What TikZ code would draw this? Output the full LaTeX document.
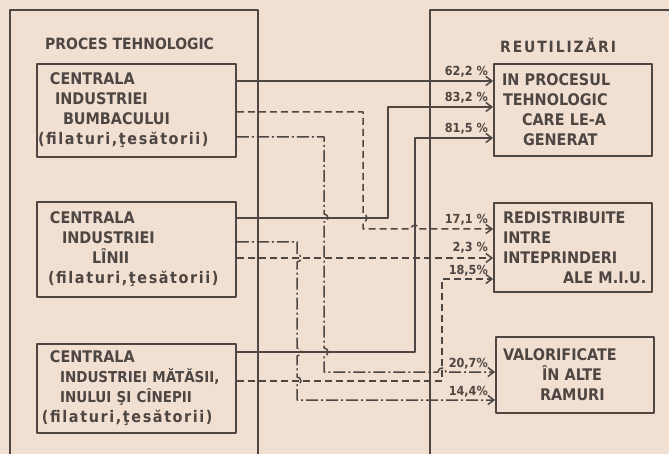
\documentclass[tikz,border=0pt]{standalone}
\usepackage{fontspec}
\setmainfont{DejaVu Sans Condensed}
\usetikzlibrary{arrows.meta}

\definecolor{paper}{RGB}{241,224,210}
\definecolor{ink}{RGB}{78,70,66}

\newcommand\lowtxt[1]{{\fontsize{16}{20}\selectfont\addfontfeature{LetterSpace=10}#1}}

\tikzset{
  panel/.style={draw=ink, line width=1.8pt},
  title/.style={anchor=west, inner sep=0pt, text=ink, font=\bfseries\fontsize{15.5}{18}\selectfont},
  srcbox/.style={draw=ink, line width=1.8pt, rectangle, minimum width=199pt, text width=199pt,
    inner xsep=0pt, inner ysep=0pt, align=left, text=ink, font=\bfseries\fontsize{16}{20}\selectfont},
  dstbox/.style={srcbox, minimum width=158pt, text width=158pt},
  flow/.style={draw=ink, line width=1.5pt},
  flowdash/.style={flow, dash pattern=on 7pt off 4pt},
  flowdot/.style={flow, dash pattern=on 12pt off 3pt on 2pt off 3pt},
  pct/.style={anchor=base east, inner sep=0pt, text=ink, font=\bfseries\fontsize{12.5}{14}\selectfont}
}

\begin{document}
\begin{tikzpicture}[x=1pt, y=-1pt, >={Straight Barb[length=6pt,width=9pt]}, line join=round]
    % Paper
    \fill[paper] (0,0) rectangle (669,454);
    \useasboundingbox (0,0) rectangle (669,454);

    % Panels
    \draw[panel] (10,454) -- (10,10) -- (258,10) -- (258,454);
    \draw[panel] (669,10) -- (430,10) -- (430,454);
    \node[title] (proc) at (45,44) {PROCES TEHNOLOGIC};
    \node[title] (reut) at (500,45) {\addfontfeature{LetterSpace=12}REUTILIZĂRI};

    % Sources
    \node[srcbox, minimum height=93pt] (bumb) at (136.5,110.5)
      {\hspace*{13pt}CENTRALA\\\hspace*{18pt}INDUSTRIEI\\\hspace*{26pt}BUMBACULUI\\\hspace*{1pt}\lowtxt{(filaturi,ţesătorii)}};
    \node[srcbox, minimum height=95pt] (lana) at (136.5,249.5)
      {\hspace*{13pt}CENTRALA\\\hspace*{25pt}INDUSTRIEI\\\hspace*{55pt}LÎNII\\\hspace*{11pt}\lowtxt{(filaturi,ţesătorii)}};
    \node[srcbox, minimum height=89pt] (matase) at (136.5,388.5)
      {\hspace*{13pt}CENTRALA\\\hspace*{23pt}{\fontsize{15}{20}\selectfont INDUSTRIEI MĂTĂSII,}\\\hspace*{23pt}{\fontsize{15}{20}\selectfont INULUI ŞI CÎNEPII}\\\hspace*{5pt}\lowtxt{(filaturi,ţesătorii)}};

    % Destinations
    \node[dstbox, minimum height=92pt] (proces) at (573,110)
      {\hspace*{8pt}IN PROCESUL\\\hspace*{9pt}TEHNOLOGIC\\\hspace*{28pt}CARE LE-A\\\hspace*{29pt}GENERAT};
    \node[dstbox, minimum height=89pt] (redist) at (573,247.5)
      {\hspace*{9pt}REDISTRIBUITE\\\hspace*{9pt}INTRE\\\hspace*{9pt}INTEPRINDERI\\\hspace*{69pt}ALE M.I.U.};
    \node[dstbox, minimum height=76pt] (valor) at (575,375)
      {\hspace*{7pt}VALORIFICATE\\\hspace*{46pt}ÎN ALTE\\\hspace*{44pt}RAMURI};

    % Back into the same process
    \draw[flow,->] (bumb.east |- 0,81) -- (proces.west |- 0,81);
    \draw[flow,->] (lana.east |- 0,218) -- (388,218) -- (388,107) -- (proces.west |- 0,107);
    \draw[flow,->] (matase.east |- 0,352) -- (415,352) -- (415,138) -- (proces.west |- 0,138);

    % Redistributed
    \draw[flowdash,->] (bumb.east |- 0,112) -- (363,112) -- (363,214) arc (-90:90:4) -- (363,229)
      -- (411,229) arc (180:360:4) -- (redist.west |- 0,229);
    \draw[flowdash,->] (lana.east |- 0,258) -- (redist.west |- 0,258);
    \draw[flowdash,->] (matase.east |- 0,381) -- (442,381) -- (442,279) -- (redist.west |- 0,279);

    % Other branches
    \draw[flowdot,->] (bumb.east |- 0,137) -- (324,137) -- (324,214) arc (-90:90:4) -- (324,348) arc (-90:90:4)
      -- (324,372) -- (438,372) arc (180:360:4) -- (valor.west |- 0,372);
    \draw[flowdot,->] (lana.east |- 0,242) -- (297,242) -- (297,254) arc (-90:90:4) -- (297,348) arc (-90:90:4)
      -- (297,377) arc (-90:90:4) -- (297,400) -- (valor.west |- 0,400);

    % Shares
    \node[pct] (s1) at (488,76) {62,2 \%};
    \node[pct] (s2) at (488,102) {83,2 \%};
    \node[pct] (s3) at (488,133) {81,5 \%};
    \node[pct] (s4) at (488,224) {17,1 \%};
    \node[pct] (s5) at (488,252) {2,3 \%};
    \node[pct] (s6) at (488,275) {18,5\%};
    \node[pct] (s7) at (488,367) {20,7\%};
    \node[pct] (s8) at (488,395) {14,4\%};
\end{tikzpicture}
\end{document}
